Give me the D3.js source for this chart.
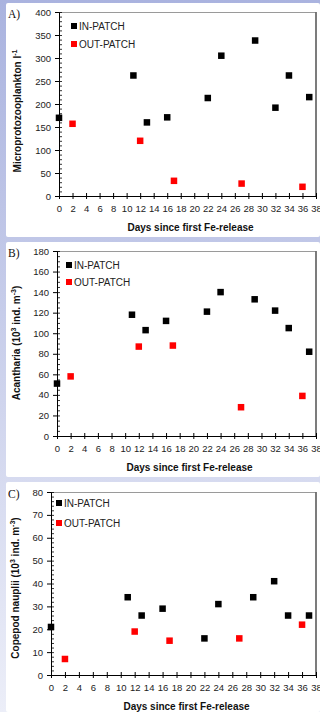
<!DOCTYPE html>
<html>
<head>
<meta charset="utf-8">
<script src="https://cdn.jsdelivr.net/npm/d3@7"></script>
<style>
  html, body { margin: 0; padding: 0; background: #fff; }
  svg { display: block; }
</style>
</head>
<body>
<div id="chart"></div>
<script>
// sampling days (same for the three panels)
const inDays = [0, 11, 13, 16, 22, 24, 29, 32, 34, 37];
const outDays = [2, 12, 17, 27, 36];

// A) microprotozooplankton
const microIn = [170, 262, 160, 171, 213, 305, 338, 192, 262, 215];
const microOut = [157, 120, 33, 27, 20];
// B) acantharia
const acanIn = [51, 118, 103, 112, 121, 140, 133, 122, 105, 82];
const acanOut = [58, 87, 88, 28, 39];
// C) copepod nauplii
const naupIn = [21, 34, 26, 29, 16, 31, 34, 41, 26, 26];
const naupOut = [7, 19, 15, 16, 22];

const xTicks = [0, 2, 4, 6, 8, 10, 12, 14, 16, 18, 20, 22, 24, 26, 28, 30, 32, 34, 36, 38];
const yTicksA = [0, 50, 100, 150, 200, 250, 300, 350, 400];
const yTicksB = [0, 20, 40, 60, 80, 100, 120, 140, 160, 180];
const yTicksC = [0, 10, 20, 30, 40, 50, 60, 70, 80];

const seriesNames = ['IN-PATCH', 'OUT-PATCH'];
const xTitle = 'Days since first Fe-release';

const W = 320, H = 712;
const svg = d3.select('#chart').append('svg')
  .attr('width', W).attr('height', H);

// lavender backdrop
const defs = svg.append('defs');
const bg = defs.append('linearGradient').attr('id', 'bg')
  .attr('x1', '0%').attr('y1', '0%').attr('x2', '0%').attr('y2', '100%');
bg.append('stop').attr('offset', '0%').attr('stop-color', '#aab3df');
bg.append('stop').attr('offset', '100%').attr('stop-color', '#eceef8');
svg.append('rect').attr('width', W).attr('height', H).attr('fill', 'url(#bg)');

const panels = [
  { tag: 'A)', inV: microIn, outV: microOut, ticks: yTicksA, max: 400, minor: 10,
    box: [6, 3, 237], plot: { l: 59, r: 316, t: 12, b: 196 }, legX: 71, legY: [26, 44],
    title: [['Microprotozooplankton l', false], ['-1', true]], titleY: 111, titleX: 21 },
  { tag: 'B)', inV: acanIn, outV: acanOut, ticks: yTicksB, max: 180, minor: 5,
    box: [6, 242, 477], plot: { l: 57, r: 316, t: 251, b: 436 }, legX: 66, legY: [265, 282],
    title: [['Acantharia (10', false], ['3', true], [' ind. m', false], ['-3', true], [')', false]], titleY: 343, titleX: 20 },
  { tag: 'C)', inV: naupIn, outV: naupOut, ticks: yTicksC, max: 80, minor: 2,
    box: [6, 482, 712], plot: { l: 51, r: 316, t: 492, b: 675 }, legX: 56, legY: [503, 523],
    title: [['Copepod nauplii (10', false], ['3', true], [' ind. m', false], ['-3', true], [')', false]], titleY: 588, titleX: 19 }
];

const colors = ['#000000', '#ff0000'];
const font = 'Arial, "Liberation Sans", sans-serif';

panels.forEach(p => {
  const g = svg.append('g');
  // white panel
  g.append('rect')
    .attr('x', p.box[0]).attr('y', p.box[1])
    .attr('width', W - p.box[0]).attr('height', p.box[2] - p.box[1])
    .attr('rx', 2)
    .attr('fill', '#fff');

  const x = d3.scaleLinear().domain([0, 38]).range([p.plot.l, p.plot.r]);
  const y = d3.scaleLinear().domain([0, p.max]).range([p.plot.b, p.plot.t]);

  // plot frame (top + right)
  g.append('line')
    .attr('x1', p.plot.l).attr('x2', p.plot.r)
    .attr('y1', p.plot.t + 0.5).attr('y2', p.plot.t + 0.5)
    .attr('stroke', '#9a9a9a').attr('stroke-width', 1);
  g.append('line')
    .attr('x1', p.plot.r).attr('x2', p.plot.r)
    .attr('y1', p.plot.t).attr('y2', p.plot.b)
    .attr('stroke', '#6e6e6e').attr('stroke-width', 1.8);

  // minor y ticks
  const minorVals = d3.range(0, p.max + 0.001, p.minor);
  g.append('g')
    .attr('transform', `translate(${p.plot.l},0)`)
    .call(d3.axisLeft(y).tickValues(minorVals).tickSize(-3).tickFormat(''))
    .call(a => a.select('.domain').remove())
    .call(a => a.selectAll('.tick line').attr('stroke', '#000').attr('stroke-width', 0.8));

  // y axis
  g.append('g')
    .attr('transform', `translate(${p.plot.l},0)`)
    .call(d3.axisLeft(y).tickValues(p.ticks).tickSizeInner(4).tickSizeOuter(0).tickPadding(4))
    .call(a => a.select('.domain').attr('stroke', '#000'))
    .call(a => a.selectAll('.tick line').attr('stroke', '#000'))
    .call(a => a.selectAll('.tick text')
      .attr('fill', '#222').style('font-family', font).style('font-size', '9.5px'));

  // x axis
  g.append('g')
    .attr('transform', `translate(0,${p.plot.b})`)
    .call(d3.axisBottom(x).tickValues(xTicks).tickSizeInner(3).tickSizeOuter(0).tickPadding(6))
    .call(a => a.select('.domain').attr('stroke', '#000'))
    .call(a => a.selectAll('.tick line').attr('y1', -3).attr('stroke', '#000'))
    .call(a => a.selectAll('.tick text')
      .attr('fill', '#222').style('font-family', font).style('font-size', '9.5px'));

  // x title
  g.append('text')
    .attr('x', (p.plot.l + p.plot.r) / 2 + 3)
    .attr('y', p.plot.b + 35)
    .attr('text-anchor', 'middle')
    .attr('font-family', font).attr('font-size', '10px').attr('font-weight', 'bold')
    .attr('fill', '#111')
    .text(xTitle);

  // y title (rotated)
  const yt = g.append('text')
    .attr('transform', `translate(${p.titleX},${p.titleY}) rotate(-90)`)
    .attr('text-anchor', 'middle')
    .attr('font-family', font).attr('font-size', '10px').attr('font-weight', 'bold')
    .attr('fill', '#111');
  p.title.forEach(([s, sup]) => {
    const ts = yt.append('tspan').text(s);
    if (sup) ts.attr('font-size', '7px').attr('baseline-shift', '55%');
  });

  // panel tag
  g.append('text')
    .attr('x', 8).attr('y', p.plot.t + 6)
    .attr('font-family', '"Liberation Serif", "Times New Roman", serif')
    .attr('font-size', '11.5px').attr('fill', '#111')
    .text(p.tag);

  // points
  const sq = 6.5;
  [[inDays, p.inV], [outDays, p.outV]].forEach(([days, vals], i) => {
    g.append('g').selectAll('rect')
      .data(days.map((d, k) => ({ d, v: vals[k] })))
      .join('rect')
      .attr('x', d => x(d.d) - sq / 2)
      .attr('y', d => y(d.v) - sq / 2)
      .attr('width', sq).attr('height', sq)
      .attr('fill', colors[i]);
  });

  // legend
  seriesNames.forEach((name, i) => {
    g.append('rect')
      .attr('x', p.legX).attr('y', p.legY[i] - 3)
      .attr('width', 6).attr('height', 6)
      .attr('fill', colors[i]);
    g.append('text')
      .attr('x', p.legX + 8).attr('y', p.legY[i] + 3.5)
      .attr('font-family', font).attr('font-size', '10px')
      .attr('fill', '#222')
      .text(name);
  });
});
</script>
</body>
</html>
